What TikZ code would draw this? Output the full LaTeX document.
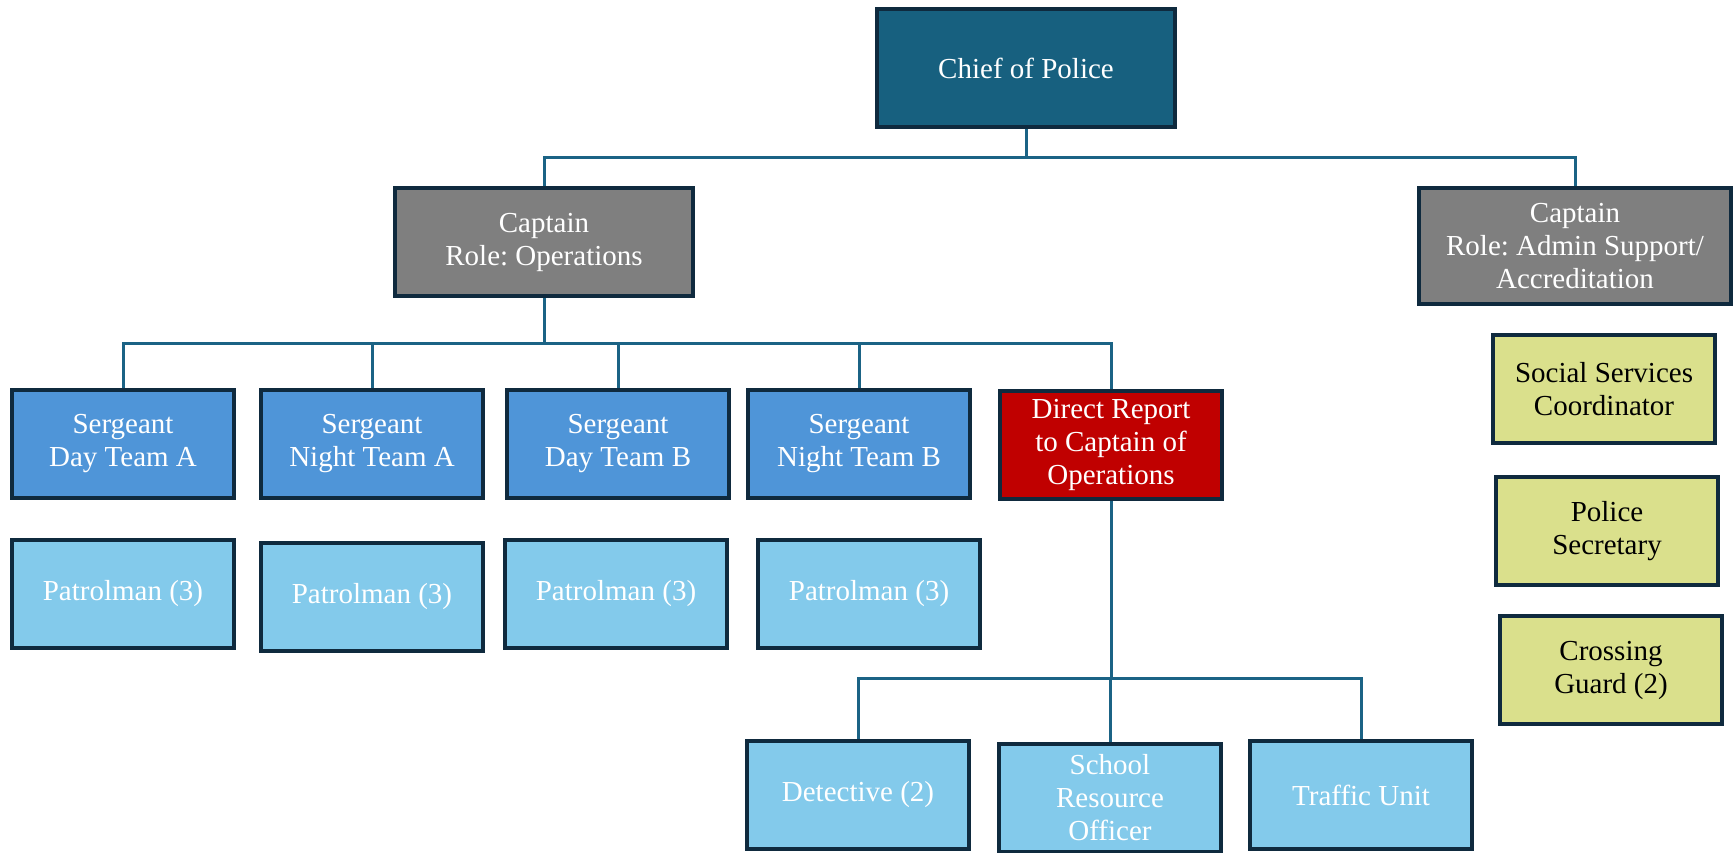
\documentclass[tikz,border=0pt]{standalone}
\usepackage{fontspec}
\setmainfont{Liberation Serif}
\usetikzlibrary{positioning}
\definecolor{edge}{HTML}{0F2A3E}
\definecolor{linkblue}{HTML}{1B6385}
\definecolor{chiefblue}{HTML}{17607F}
\definecolor{capgray}{HTML}{7F7F7F}
\definecolor{sgtblue}{HTML}{4F95D8}
\definecolor{patblue}{HTML}{83CAEB}
\definecolor{drred}{HTML}{C00000}
\definecolor{staffgreen}{HTML}{DAE08C}
\frenchspacing
\begin{document}
\begin{tikzpicture}[x=0.5pt,y=-0.5pt,
  box/.style={draw=edge, line width=1.8pt, minimum width=111pt, minimum height=54pt,
    inner sep=2pt, align=center, text=white, font=\fontsize{14.5}{16.5}\selectfont},
  link/.style={draw=linkblue, line width=1.5pt}]
  \useasboundingbox (0,0) rectangle (1734,852);
  \clip (0,0) rectangle (1734,852);
  % top levels
  \node[box, fill=chiefblue, minimum width=149pt, minimum height=59pt] (chief) at (1026,68) {Chief of Police};
  \node[box, fill=capgray, minimum width=149pt] (capops) at (544,242) {Captain\\Role: Operations};
  \node[box, fill=capgray, minimum width=156pt, minimum height=58pt] (capadm) at (1575,246) {Captain\\Role: Admin Support/\\Accreditation};
  % staff under admin captain
  \node[box, fill=staffgreen, text=black] (social) at (1604,389) {Social Services\\Coordinator};
  \node[box, fill=staffgreen, text=black] (secr) at (1607,531) {Police\\Secretary};
  \node[box, fill=staffgreen, text=black] (cross) at (1611,670) {Crossing\\Guard (2)};
  % sergeants and their patrolmen
  \foreach \n/\x/\px/\py/\team in {sda/123/123/594/Day Team A, sna/372/372/597/Night Team A,
      sdb/618/616/594/Day Team B, snb/859/869/594/Night Team B} {
    \node[box, fill=sgtblue] (\n) at (\x,444) {Sergeant\\\team};
    \node[box, fill=patblue] (pat\n) at (\px,\py) {Patrolman (3)};
  }
  \node[box, fill=drred] (direct) at (1111,445) {Direct Report\\to Captain of\\Operations};
  % direct reports
  \node[box, fill=patblue] (detect) at (858,795) {Detective (2)};
  \node[box, fill=patblue] (sro) at (1110,798) {School\\Resource\\Officer};
  \node[box, fill=patblue] (traffic) at (1361,795) {Traffic Unit};
  % connectors
  \coordinate (bus1) at (0,157);
  \coordinate (bus2) at (0,343);
  \coordinate (bus3) at (0,678);
  \foreach \n in {capops,capadm}
    \draw[link] (chief.south) -- (chief.south |- bus1) -| (\n.north);
  \foreach \n in {sda,sna,sdb,snb,direct}
    \draw[link] (capops.south) -- (capops.south |- bus2) -| (\n.north);
  \foreach \n in {detect,sro,traffic}
    \draw[link] (direct.south) -- (direct.south |- bus3) -| (\n.north);
\end{tikzpicture}
\end{document}
